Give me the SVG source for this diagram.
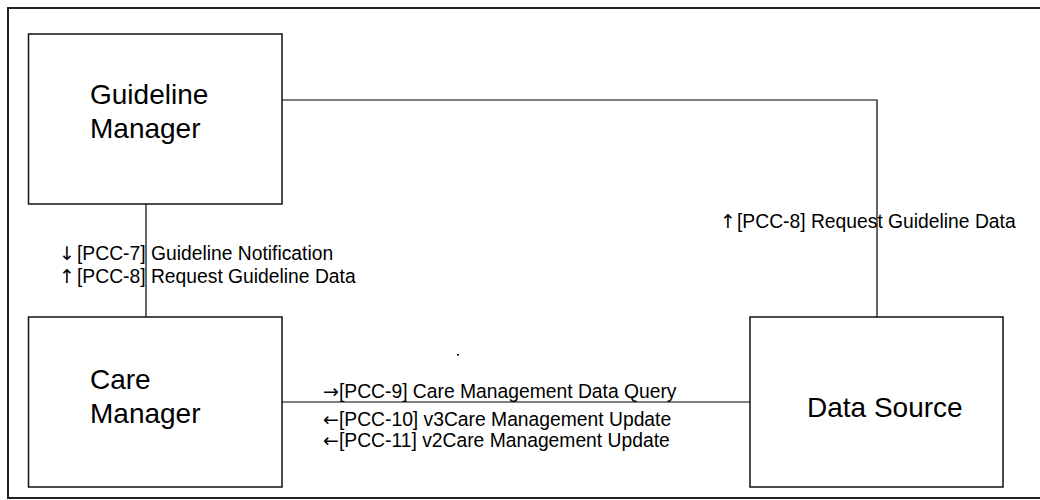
<svg xmlns="http://www.w3.org/2000/svg" width="1040" height="500" viewBox="0 0 1040 500">
  <style>
    .frame { fill: none; stroke: #222; stroke-width: 2; }
    .box { fill: #fff; stroke: #111; stroke-width: 1.5; }
    .wire { fill: none; stroke: #000; stroke-width: 1.2; }
    .name { font-family: "Liberation Sans", Arial, sans-serif; font-size: 28px; fill: #000; }
    .label { font-family: "Liberation Sans", Arial, sans-serif; font-size: 19.3px; fill: #000; }
    .varrow { font-family: "DejaVu Sans", sans-serif; font-size: 19px; fill: #000; }
    .harrow { font-family: "DejaVu Sans", sans-serif; font-size: 19px; }
  </style>

  <!-- page frame (open on the right) -->
  <path class="frame" d="M1042,8 H8 V498 H1042"/>

  <!-- connectors -->
  <g id="connectors">
    <path class="wire" d="M146,204 V317"/>
    <path class="wire" d="M282,100 H877 V317"/>
    <path class="wire" d="M282,402 H750"/>
    <rect x="457" y="354" width="2" height="1.5" fill="#000"/>
    <text class="varrow" x="59" y="260">↓</text>
    <text class="label" x="77" y="260">[PCC-7] Guideline Notification</text>
    <text class="varrow" x="59" y="283">↑</text>
    <text class="label" x="77" y="283">[PCC-8] Request Guideline Data</text>
    <text class="varrow" x="720" y="228">↑</text>
    <text class="label" x="737" y="228">[PCC-8] Request Guideline Data</text>
    <text class="label" x="323" y="398"><tspan class="harrow">→</tspan>[PCC-9] Care Management Data Query</text>
    <text class="label" x="323" y="426"><tspan class="harrow">←</tspan>[PCC-10] v3Care Management Update</text>
    <text class="label" x="323" y="447"><tspan class="harrow">←</tspan>[PCC-11] v2Care Management Update</text>
  </g>

  <g id="guideline-manager">
    <rect class="box" x="28.5" y="34" width="253.5" height="170"/>
    <text class="name" x="90" y="104">Guideline</text>
    <text class="name" x="90" y="138">Manager</text>
  </g>

  <g id="care-manager">
    <rect class="box" x="28.5" y="317" width="253.5" height="170"/>
    <text class="name" x="90" y="389">Care</text>
    <text class="name" x="90" y="423">Manager</text>
  </g>

  <g id="data-source">
    <rect class="box" x="750" y="317" width="253" height="170"/>
    <text class="name" x="807" y="417">Data Source</text>
  </g>
</svg>
